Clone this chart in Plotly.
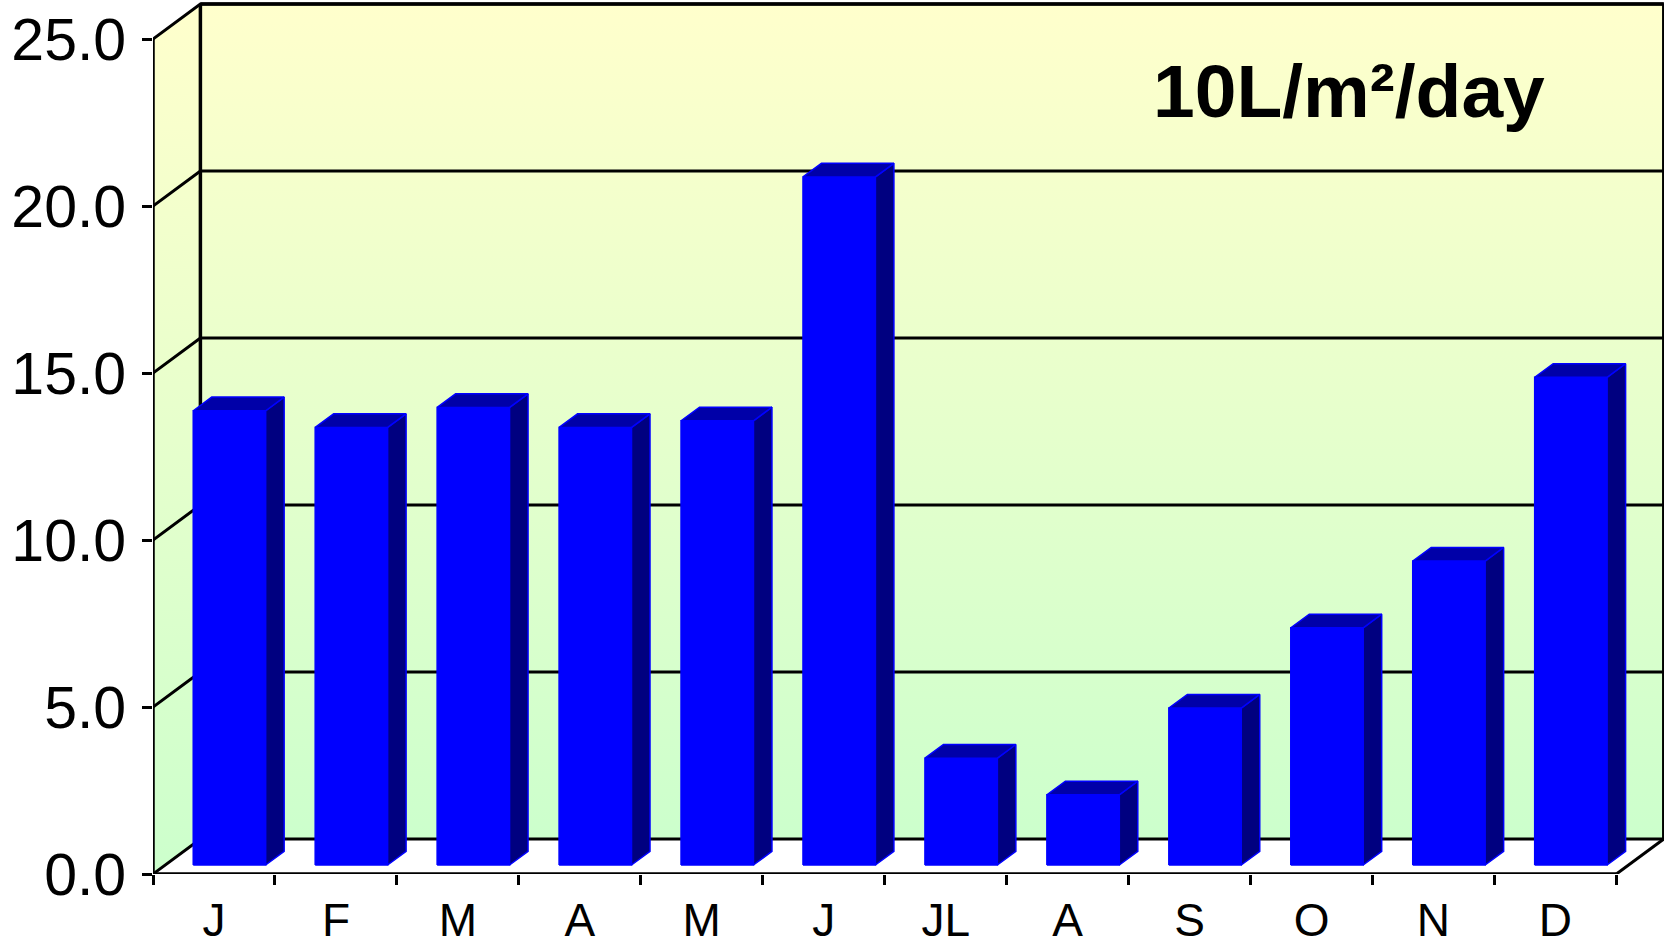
import plotly.graph_objects as go

# ---------------- data ----------------
months = ["J", "F", "M", "A", "M", "J", "JL", "A", "S", "O", "N", "D"]
values = [13.6, 13.1, 13.7, 13.1, 13.3, 20.6, 3.2, 2.1, 4.7, 7.1, 9.1, 14.6]
y_ticks = [0, 5, 10, 15, 20, 25]
y_tick_labels = ["0.0", "5.0", "10.0", "15.0", "20.0", "25.0"]
label_text = "10L/m²/day"

# ---------------- geometry / style ----------------
W, H = 1669, 950
ML, MR, MT, MB = 153, 5, 2, 76
PPU_X = 121.95          # pixels per category
PPU_Y = 33.4            # pixels per value unit
DX = 47.4 / PPU_X       # depth offset of the back wall, in x units
DY = 35.0 / PPU_Y       # depth offset of the back wall, in y units
F1, F2 = 0.257, 0.647   # bar front / back depth fraction
BAR_OFF, BAR_W = 0.23, 0.594
N = len(months)
VMAX = y_ticks[-1]
FONT = "Liberation Sans, Arial, sans-serif"

x_range = [0, (W - ML - MR) / PPU_X]
y_range = [0, (H - MT - MB) / PPU_Y]


def P(x, v, d):
    return x + d * DX, v + d * DY


def poly(pts):
    xs = [p[0] for p in pts] + [pts[0][0]]
    ys = [p[1] for p in pts] + [pts[0][1]]
    return xs, ys


fig = go.Figure()


def add_fill(pts, color=None, gradient=None, line_color=None, lw=0):
    xs, ys = poly(pts)
    kw = dict(x=xs, y=ys, mode="lines", fill="toself",
              line=dict(width=lw, color=line_color or "rgba(0,0,0,0)"),
              hoverinfo="skip", showlegend=False)
    if gradient is not None:
        kw["fillgradient"] = gradient
    else:
        kw["fillcolor"] = color
    fig.add_trace(go.Scatter(**kw))


def add_line(pts, color="black", lw=3):
    fig.add_trace(go.Scatter(x=[p[0] for p in pts], y=[p[1] for p in pts],
                             mode="lines", line=dict(color=color, width=lw),
                             hoverinfo="skip", showlegend=False))


grad_scale = [[0, "#CCFFCC"], [0.5, "#E6FFCC"], [1, "#FFFFCC"]]
wall_grad = dict(type="vertical", start=DY, stop=VMAX + DY, colorscale=grad_scale)
side_grad = dict(type="vertical", start=0, stop=VMAX + DY, colorscale=grad_scale)

# back wall
add_fill([P(0, 0, 1), P(N, 0, 1), P(N, VMAX, 1), P(0, VMAX, 1)], gradient=wall_grad)
# left wall
add_fill([P(0, 0, 0), P(0, 0, 1), P(0, VMAX, 1), P(0, VMAX, 0)], gradient=side_grad)
# floor
add_fill([P(0, 0, 0), P(N, 0, 0), P(N, 0, 1), P(0, 0, 1)], color="white")

# gridlines on back wall and left wall
for t in y_ticks:
    add_line([P(0, t, 0), P(0, t, 1), P(N, t, 1)], lw=3)
# wall edges
add_line([P(0, 0, 1), P(0, VMAX, 1)], lw=3.5)
add_line([P(N, 0, 1), P(N, VMAX, 1)], lw=3.5)
add_line([P(0, VMAX, 1), P(N, VMAX, 1)], lw=3.5)
# floor right edge
add_line([P(N, 0, 0), P(N, 0, 1)], lw=3)

# bars
FRONT, SIDE, TOP, EDGE = "#0000FF", "#000080", "#0000A8", "#0000FF"
for i, v in enumerate(values):
    x0 = i + BAR_OFF
    x1 = x0 + BAR_W
    add_fill([P(x0, 0, F1), P(x1, 0, F1), P(x1, v, F1), P(x0, v, F1)],
             color=FRONT, line_color=EDGE, lw=1.5)
    add_fill([P(x1, 0, F1), P(x1, 0, F2), P(x1, v, F2), P(x1, v, F1)],
             color=SIDE, line_color=EDGE, lw=1.5)
    add_fill([P(x0, v, F1), P(x1, v, F1), P(x1, v, F2), P(x0, v, F2)],
             color=TOP, line_color=EDGE, lw=1.5)

# front axis lines
add_line([P(0, VMAX, 0), P(0, 0, 0), P(N, 0, 0)], lw=3.5)

fig.add_annotation(x=(1349 - ML) / PPU_X, y=(874 - 91) / PPU_Y, xref="x", yref="y",
                   text=label_text, showarrow=False, xanchor="center", yanchor="middle",
                   font=dict(family=FONT, size=75, color="black", weight="bold"))

fig.update_layout(
    width=W, height=H,
    margin=dict(l=ML, r=MR, t=MT, b=MB, pad=0, autoexpand=False),
    paper_bgcolor="white", plot_bgcolor="white",
    xaxis=dict(range=x_range, showgrid=False, zeroline=False, showline=False,
               automargin=False,
               tickmode="array", tickvals=[i + 0.5 for i in range(N)], ticktext=months,
               ticks="", tickfont=dict(family=FONT, size=46, color="black"),
               ticklabelstandoff=15,
               minor=dict(tickmode="array", tickvals=list(range(N + 1)), ticks="outside",
                          ticklen=10, tickwidth=3, tickcolor="black", showgrid=False),
               fixedrange=True),
    yaxis=dict(range=y_range, showgrid=False, zeroline=False, showline=False,
               automargin=False,
               tickmode="array", tickvals=y_ticks, ticktext=y_tick_labels,
               ticks="outside", ticklen=10, tickwidth=3, tickcolor="black",
               tickfont=dict(family=FONT, size=59, color="black"),
               ticklabelstandoff=4,
               fixedrange=True),
)

fig.write_html("out.html", config={"displayModeBar": False},
               post_script="document.body.style.margin='0';document.body.style.overflow='hidden';")
